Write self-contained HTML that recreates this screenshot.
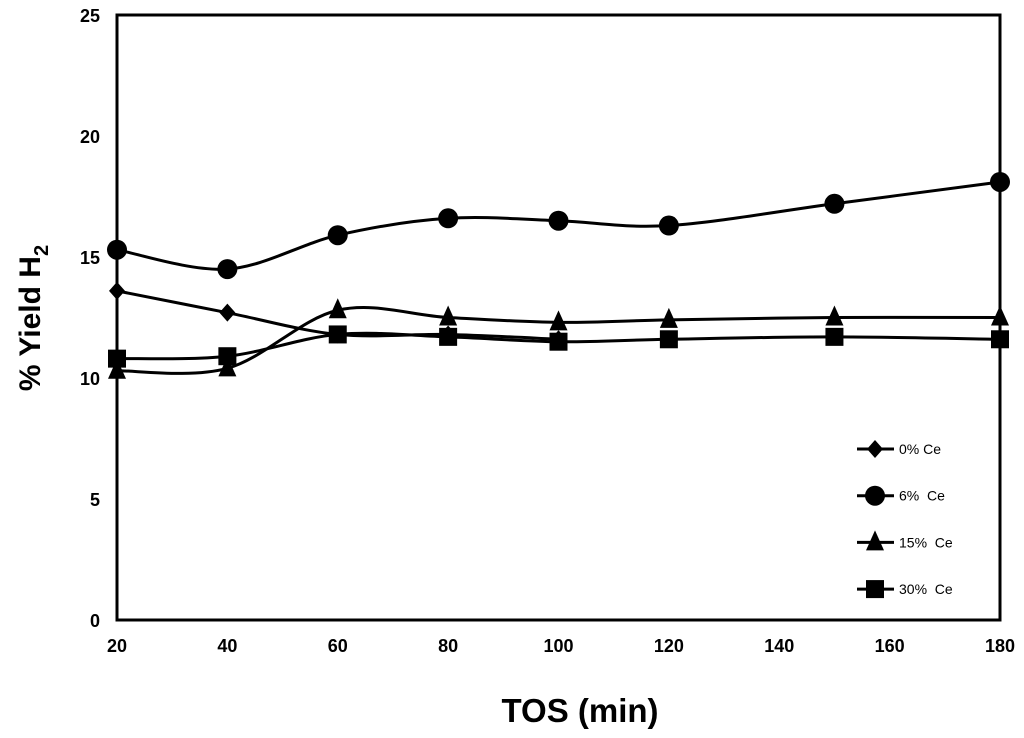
<!DOCTYPE html>
<html><head><meta charset="utf-8"><style>
body{margin:0;background:#fff;}
svg{display:block;font-family:"Liberation Sans",Arial,sans-serif;}
</style></head><body>
<svg id="chart" width="1024" height="738">
<rect x="117" y="15" width="883" height="605" fill="none" stroke="#000" stroke-width="3"/>
<g id="axes"></g><g id="series"></g><g id="legend"></g>
<text x="40" y="318" transform="rotate(-90 40 318)" text-anchor="middle" font-size="30" font-weight="bold">% Yield  H<tspan font-size="20" dy="8">2</tspan></text>
<text x="580" y="722" text-anchor="middle" font-size="33" font-weight="bold">TOS (min)</text>
</svg>
<script>
const xTicks=[20,40,60,80,100,120,140,160,180];
const yTicks=[0,5,10,15,20,25];
const tos=[20,40,60,80,100,120,150,180];
const ce0=[13.6,12.7,11.8,11.8,11.6];
const ce6=[15.3,14.5,15.9,16.6,16.5,16.3,17.2,18.1];
const ce15=[10.3,10.4,12.8,12.5,12.3,12.4,12.5,12.5];
const ce30=[10.8,10.9,11.8,11.7,11.5,11.6,11.7,11.6];
const names=["0% Ce","6%\u00a0\u00a0Ce","15%\u00a0\u00a0Ce","30%\u00a0\u00a0Ce"];
const NS="http://www.w3.org/2000/svg";
const X=v=>117+(v-20)*883/160, Y=v=>620-v*605/25;
function mk(t,a,p){const e=document.createElementNS(NS,t);for(const k in a)e.setAttribute(k,a[k]);p.appendChild(e);return e;}
const ax=document.getElementById('axes');
xTicks.forEach(v=>{const t=mk('text',{x:X(v),y:652,'text-anchor':'middle','font-size':18,'font-weight':'bold'},ax);t.textContent=v;

});
yTicks.forEach(v=>{const t=mk('text',{x:100,y:Y(v)+7,'text-anchor':'end','font-size':18,'font-weight':'bold'},ax);t.textContent=v;

});
function path(pts){let d=`M${pts[0][0]},${pts[0][1]}`;for(let i=0;i<pts.length-1;i++){const p0=pts[Math.max(i-1,0)],p1=pts[i],p2=pts[i+1],p3=pts[Math.min(i+2,pts.length-1)];
d+=` C${p1[0]+(p2[0]-p0[0])/6},${p1[1]+(p2[1]-p0[1])/6} ${p2[0]-(p3[0]-p1[0])/6},${p2[1]-(p3[1]-p1[1])/6} ${p2[0]},${p2[1]}`;}return d;}
function marker(type,x,y,g){
if(type===0)return mk('polygon',{points:`${x},${y-9} ${x+8},${y} ${x},${y+9} ${x-8},${y}`},g);
if(type===1)return mk('circle',{cx:x,cy:y,r:10},g);
if(type===2)return mk('polygon',{points:`${x},${y-12} ${x+9},${y+8} ${x-9},${y+8}`},g);
return mk('rect',{x:x-9,y:y-9,width:18,height:18},g);}
const sg=document.getElementById('series');
[ce0,ce6,ce15,ce30].forEach((s,k)=>{const g=mk('g',{fill:'#000'},sg);


const pts=s.map((v,i)=>[X(tos[i]),Y(v)]);
mk('path',{d:path(pts),fill:'none',stroke:'#000','stroke-width':3},g);
pts.forEach(p=>{const m=marker(k,p[0],p[1],g);

});});
const lg=document.getElementById('legend');
names.forEach((n,k)=>{const y=449+k*46.7;const g=mk('g',{},lg);


mk('line',{x1:857,y1:y,x2:894,y2:y,stroke:'#000','stroke-width':3},g);marker(k,875,y,g);
const t=mk('text',{x:899,y:y+5,'font-size':14},g);t.textContent=n;});
</script>
</body></html>
